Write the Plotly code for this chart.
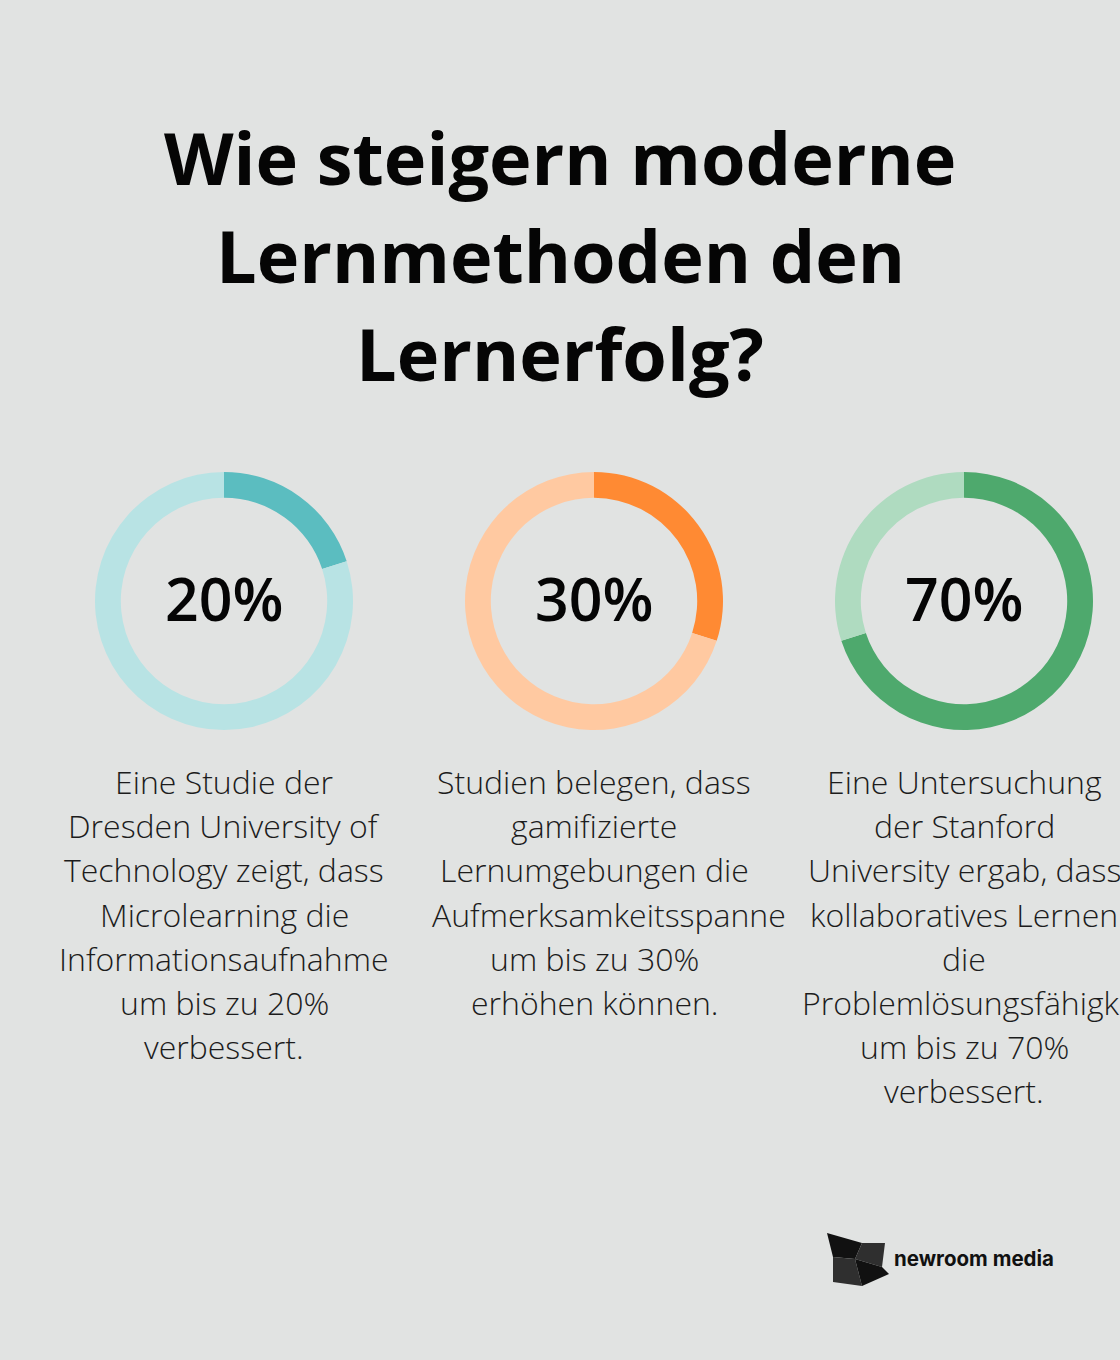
import plotly.graph_objects as go

W, H = 1120, 1360

# ---- data ----
percents = [20, 30, 70]
dark_colors = ["#5BBDC0", "#FF8A33", "#4EA96D"]
light_colors = ["#B8E3E4", "#FFC9A1", "#AFDBC0"]
title_lines = ["Wie steigern moderne", "Lernmethoden den", "Lernerfolg?"]
descriptions = [
    ["Eine Studie der", "Dresden University of", "Technology zeigt, dass",
     "Microlearning die", "Informationsaufnahme", "um bis zu 20%", "verbessert."],
    ["Studien belegen, dass", "gamifizierte", "Lernumgebungen die",
     "Aufmerksamkeitsspanne", "um bis zu 30%", "erhöhen können."],
    ["Eine Untersuchung", "der Stanford", "University ergab, dass",
     "kollaboratives Lernen", "die", "Problemlösungsfähigkeit", "um bis zu 70%",
     "verbessert."],
]
# lines wider than their text column (they overflow from the column's left edge)
overflow_lines = {(1, 3), (2, 5)}
brand = "newroom media"

# ---- layout helpers (pixel -> paper) ----
def px(x):
    return x / W

def py(y):
    return 1 - y / H

centers_x = [224, 594, 964]
center_y = 601
radius = 129
col_half = 164

fig = go.Figure()
for i, p in enumerate(percents):
    cx = centers_x[i]
    fig.add_trace(go.Pie(
        values=[p, 100 - p],
        marker=dict(colors=[dark_colors[i], light_colors[i]], line=dict(width=0)),
        hole=0.8,
        sort=False,
        direction="clockwise",
        rotation=0,
        textinfo="none",
        hoverinfo="skip",
        showlegend=False,
        domain=dict(x=[px(cx - radius), px(cx + radius)],
                    y=[py(center_y + radius), py(center_y - radius)]),
    ))

annotations = []
# title
title_y = [157, 255, 353]
for t, y in zip(title_lines, title_y):
    annotations.append(dict(
        text=f"<b>{t}</b>", x=0.5, y=py(y), xref="paper", yref="paper",
        xanchor="center", yanchor="middle", showarrow=False,
        font=dict(family="Open Sans", size=72, color="#050505"),
    ))

# percent labels
for i, p in enumerate(percents):
    annotations.append(dict(
        text=f"{p}%", x=px(centers_x[i]), y=py(center_y - 3), xref="paper", yref="paper",
        xanchor="center", yanchor="middle", showarrow=False,
        font=dict(family="Open Sans", size=59, color="#050505", weight=600),
    ))

# descriptions
for i, lines in enumerate(descriptions):
    for j, line in enumerate(lines):
        if (i, j) in overflow_lines:
            xpos, xanc = px(centers_x[i] - col_half), "left"
        else:
            xpos, xanc = px(centers_x[i]), "center"
        annotations.append(dict(
            text=line, x=xpos, y=py(782 + 44 * j), xref="paper", yref="paper",
            xanchor=xanc, yanchor="middle", showarrow=False,
            font=dict(family="Open Sans", size=32, color="#1c1c1c", weight=300),
        ))

# brand text
annotations.append(dict(
    text=f"<b>{brand}</b>", x=px(892), y=py(1258), xref="paper", yref="paper",
    xanchor="left", yanchor="middle", showarrow=False,
    font=dict(family="Inter", size=20.5, color="#111111"),
))

# logo shapes (pixel coords)
logo_pieces = [
    ([(827, 1233), (862, 1243), (855, 1259), (833, 1257)], "#111111"),
    ([(862, 1243), (885, 1243), (882, 1267), (855, 1259)], "#2f2f2f"),
    ([(833, 1257), (855, 1259), (862, 1286), (833, 1282)], "#2f2f2f"),
    ([(855, 1259), (882, 1267), (889, 1274), (862, 1286)], "#111111"),
]
shapes = []
for pts, col in logo_pieces:
    path = "M " + " L ".join(f"{px(x):.5f},{py(y):.5f}" for x, y in pts) + " Z"
    shapes.append(dict(type="path", path=path, xref="paper", yref="paper",
                       fillcolor=col, line=dict(width=0)))

fig.update_layout(
    width=W, height=H,
    margin=dict(l=0, r=0, t=0, b=0),
    paper_bgcolor="#E1E3E2",
    plot_bgcolor="#E1E3E2",
    annotations=annotations,
    shapes=shapes,
    showlegend=False,
)

fig.write_html(
    "out.html",
    config={"displayModeBar": False},
    post_script="document.body.style.margin='0';document.body.style.background='#E1E3E2';",
)
